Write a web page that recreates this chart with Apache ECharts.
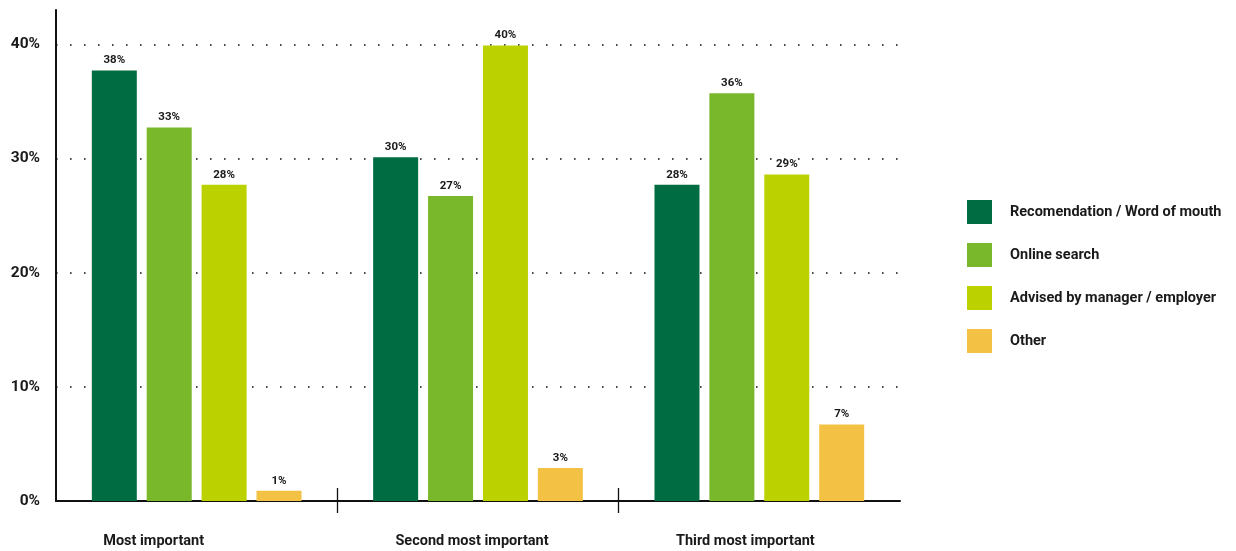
<!DOCTYPE html>
<html>
<head>
<meta charset="utf-8">
<script src="https://cdn.jsdelivr.net/npm/echarts@6/dist/echarts.min.js"></script>
<style>
html,body{margin:0;padding:0;background:#fff;}
#chart{width:1236px;height:551px;}
</style>
</head>
<body>
<div id="chart"></div>
<script>
const categories = ['Most important', 'Second most important', 'Third most important'];
const seriesNames = ['Recomendation / Word of mouth', 'Online search', 'Advised by manager / employer', 'Other'];
const recommendation = [37.7, 30.1, 27.7];
const onlineSearch = [32.7, 26.7, 35.7];
const advised = [27.7, 39.9, 28.6];
const other = [0.9, 2.9, 6.7];
const yTicks = [0, 10, 20, 30, 40];
const boundaryTicks = [1, 2];
const colors = ['#006c41', '#79b82b', '#bcd100', '#f3c244'];

const seriesValues = [recommendation, onlineSearch, advised, other];
const labelShift = [86, 12, 28]; // right padding to nudge category labels left
const FONT = 'Roboto';

const chart = echarts.init(document.getElementById('chart'), null, {renderer: 'canvas'});
chart.setOption({
  animation: false,
  backgroundColor: '#ffffff',
  textStyle: {fontFamily: FONT},
  legend: {
    orient: 'vertical',
    left: 967,
    top: 200,
    padding: 0,
    itemWidth: 25,
    itemHeight: 24,
    itemGap: 19,
    icon: 'rect',
    data: seriesNames,
    textStyle: {fontFamily: FONT, fontWeight: 'bold', fontSize: 14.5, color: '#1a1a1a', padding: [0, 0, 0, 13]}
  },
  grid: {left: 56, right: 336, top: 10, bottom: 50, containLabel: false},
  xAxis: [
    {
      type: 'category',
      data: categories.map((c, i) => ({value: c, textStyle: {padding: [0, labelShift[i], 0, 0]}})),
      axisLine: {show: true, lineStyle: {color: '#111', width: 2}},
      axisTick: {show: false},
      axisLabel: {margin: 33, fontFamily: FONT, fontWeight: 'bold', fontSize: 14.5, color: '#1a1a1a'}
    },
    {
      type: 'value',
      position: 'bottom',
      min: 0,
      max: categories.length,
      offset: 12,
      axisLine: {show: false},
      axisLabel: {show: false},
      splitLine: {show: false},
      axisTick: {show: true, inside: true, length: 25, customValues: boundaryTicks, lineStyle: {color: '#111', width: 1.3}}
    }
  ],
  yAxis: {
    type: 'value',
    min: 0,
    max: 43,
    interval: 10,
    offset: 3,
    axisLine: {show: true, lineStyle: {color: '#111', width: 2}},
    axisTick: {show: false},
    axisLabel: {
      margin: 13,
      fontFamily: FONT, fontWeight: 'bold', fontSize: 15.5, color: '#1a1a1a',
      customValues: yTicks,
      formatter: v => v + '%'
    },
    splitLine: {
      show: true,
      showMinLine: false,
      showMaxLine: false,
      lineStyle: {color: '#111', width: 1.6, type: [1.6, 12.4]}
    }
  },
  series: seriesNames.map((name, i) => ({
    name: name,
    type: 'bar',
    xAxisIndex: 0,
    data: seriesValues[i],
    barWidth: 45,
    barGap: '22%',
    itemStyle: {color: colors[i]},
    label: {
      show: true,
      position: 'top',
      distance: 4,
      fontFamily: FONT, fontWeight: 'bold', fontSize: 11.5, color: '#1a1a1a',
      formatter: p => Math.round(p.value) + '%'
    }
  }))
});
</script>
</body>
</html>
